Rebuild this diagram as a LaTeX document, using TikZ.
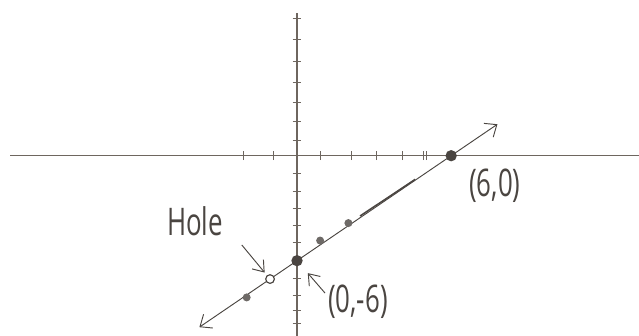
\documentclass[tikz,border=0pt]{standalone}
\usepackage{fontspec}
\setsansfont{Open Sans}
\usetikzlibrary{arrows.meta}
\definecolor{pencil}{HTML}{4A4541}
\definecolor{axisgray}{HTML}{6E665F}

\begin{document}
\begin{tikzpicture}[x=0.771cm, y=0.525cm,
    axis/.style={draw=axisgray, line width=0.9pt},
    tick/.style={draw=axisgray, line width=0.7pt},
    graph/.style={draw=pencil, line width=0.8pt, {Straight Barb[length=3mm,width=5mm]}-{Straight Barb[length=3mm,width=5mm]}},
    dot/.style={circle, fill=pencil!80, inner sep=0pt, minimum size=2.4mm},
    bigdot/.style={circle, fill=pencil, inner sep=0pt, minimum size=3.4mm},
    hole/.style={circle, draw=pencil, line width=1pt, fill=white, inner sep=0pt, minimum size=2.6mm},
    handtext/.style={font=\sffamily\fontsize{26}{26}\selectfont, text=pencil, xscale=0.85, yscale=1.25, transform shape},
    pointer/.style={draw=pencil, line width=0.8pt, -{Straight Barb[length=3mm,width=4.4mm]}}
]
\useasboundingbox (-11.56,-10.3) rectangle (13.31,8.9);
% axes
\draw[axis] (-11.17,0) -- (13.31,0);
\draw[axis] (0,8.15) -- (0,-10.3);
\foreach \t in {-2.1,-0.93,0.9,2.1,3.1,4.1,4.93,5.05}
    \draw[tick] (\t,-0.25) -- (\t,0.25);
\foreach \t in {0.9,1.95,3.05,4.2,5.4,6.65,7.85,-1,-2.05,-3,-4,-4.95,-7,-8,-8.85,-9.6}
    \draw[tick] (-0.17,\t) -- (0.17,\t);
% the line y = x - 6
\coordinate (lo) at (-3.8,-9.8);
\coordinate (hi) at (7.8,1.8);
\draw[graph] (lo) -- (hi);
\draw[pencil, line width=1.3pt] (2.45,-3.45) -- (4.6,-1.35);
% points
\node[bigdot] (xint) at (6,0) {};
\node[bigdot] (yint) at (0,-6) {};
\node[dot] (pa) at (-1.96,-8.1) {};
\node[dot] (pb) at (0.9,-4.85) {};
\node[dot] (pc) at (2.0,-3.85) {};
\node[hole] (hl) at (-1.05,-7.05) {};
% labels
\node[handtext] (holetxt) at (-3.97,-3.73) {Hole};
\node[handtext] (xtxt) at (7.7,-1.73) {(6,0)};
\node[handtext] (ytxt) at (2.37,-8.36) {(0,-6)};
\coordinate (holetail) at (-2.15,-5.1);
\coordinate (ytail) at (1.09,-7.85);
\draw[pointer, shorten >=3pt] (holetail) -- (hl);
\draw[pointer, shorten >=9pt] (ytail) -- (yint);
\end{tikzpicture}
\end{document}
